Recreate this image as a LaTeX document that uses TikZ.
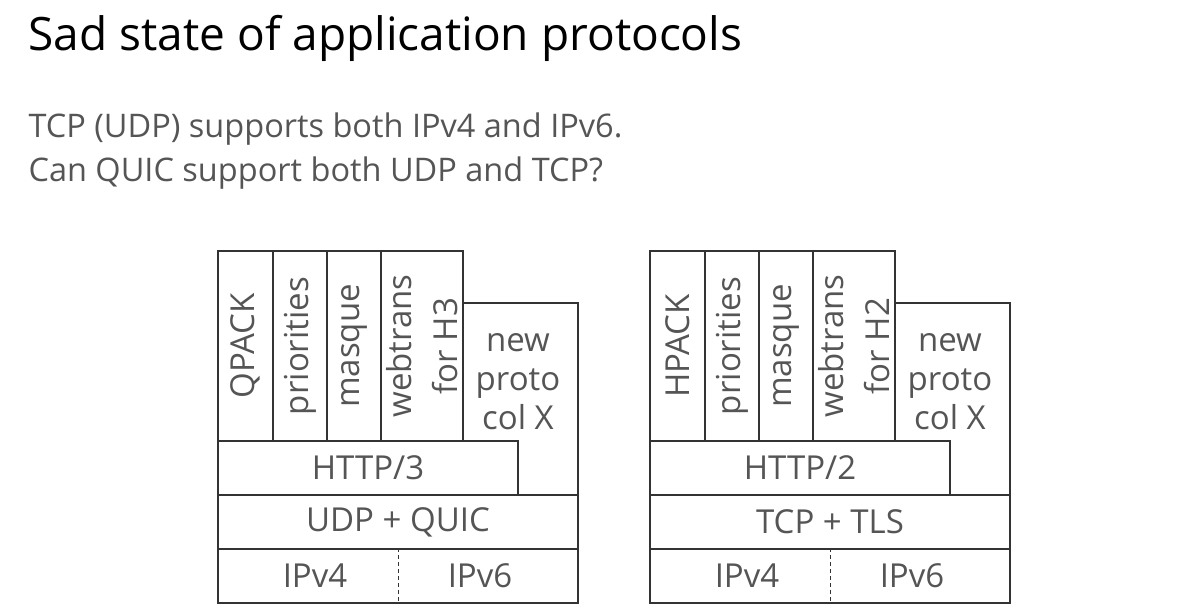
\documentclass[tikz,border=0pt]{standalone}
\usepackage{fontspec}
\setmainfont{Open Sans}
\usetikzlibrary{positioning}
\definecolor{txtgray}{HTML}{555555}
\definecolor{linegray}{HTML}{333333}
\tikzset{
  layer/.style={draw=linegray, fill=white, line width=1.2pt, inner sep=0pt},
  lbl/.style={text=txtgray, font=\fontsize{33}{39}\selectfont, align=center},
  side/.style={lbl, rotate=90},
  headline/.style={anchor=base west, font=\fontsize{46}{54}\selectfont},
  bodyline/.style={anchor=base west, text=txtgray, font=\fontsize{32.5}{38}\selectfont},
}

\begin{document}
\begin{tikzpicture}[x=1pt,y=-1pt]
    \useasboundingbox (0,0) rectangle (1200,614);
    \node[headline] (title) at (25,50) {Sad state of application protocols};
    \node[bodyline] (line1) at (25,137) {TCP (UDP) supports both IPv4 and IPv6.};
    \node[bodyline] (line2) at (25,181) {Can QUIC support both UDP and TCP?};

    % QUIC stack
    \node[layer, side, minimum width=190, minimum height=55] (qpack) at (245.5,346) {QPACK};
    \node[layer, side, minimum width=190, minimum height=54] (prio3) at (300,346) {priorities};
    \node[layer, side, minimum width=190, minimum height=54] (masque3) at (354,346) {masque};
    \node[layer, side, minimum width=190, minimum height=82,
          font=\fontsize{33}{46}\selectfont] (webtr3) at (422,346) {webtrans\\for H3};
    \node[layer, minimum width=115, minimum height=192] (newx3) at (520.5,399) {};
    \node[lbl] (newxtext3) at (518,382) {new\\proto\\col X};
    \node[layer, lbl, minimum width=300, minimum height=54] (http3) at (368,468) {HTTP/3};
    \node[layer, lbl, minimum width=360, minimum height=54] (quic) at (398,522) {UDP + QUIC};
    \node[layer, minimum width=360, minimum height=54] (ip3) at (398,576) {};
    \node[lbl] (ipv4a) at (315,576) {IPv4};
    \node[lbl] (ipv6a) at (480,576) {IPv6};
    \draw[linegray, dash pattern=on 4pt off 3pt] (ip3.north) -- (ip3.south);

    % TCP stack
    \node[layer, side, minimum width=190, minimum height=55] (hpack) at (677.5,346) {HPACK};
    \node[layer, side, minimum width=190, minimum height=54] (prio2) at (732,346) {priorities};
    \node[layer, side, minimum width=190, minimum height=54] (masque2) at (786,346) {masque};
    \node[layer, side, minimum width=190, minimum height=82,
          font=\fontsize{33}{46}\selectfont] (webtr2) at (854,346) {webtrans\\for H2};
    \node[layer, minimum width=115, minimum height=192] (newx2) at (952.5,399) {};
    \node[lbl] (newxtext2) at (950,382) {new\\proto\\col X};
    \node[layer, lbl, minimum width=300, minimum height=54] (http2) at (800,468) {HTTP/2};
    \node[layer, lbl, minimum width=360, minimum height=54] (tls) at (830,522) {TCP + TLS};
    \node[layer, minimum width=360, minimum height=54] (ip2) at (830,576) {};
    \node[lbl] (ipv4b) at (747,576) {IPv4};
    \node[lbl] (ipv6b) at (912,576) {IPv6};
    \draw[linegray, dash pattern=on 4pt off 3pt] (ip2.north) -- (ip2.south);
\end{tikzpicture}
\end{document}
